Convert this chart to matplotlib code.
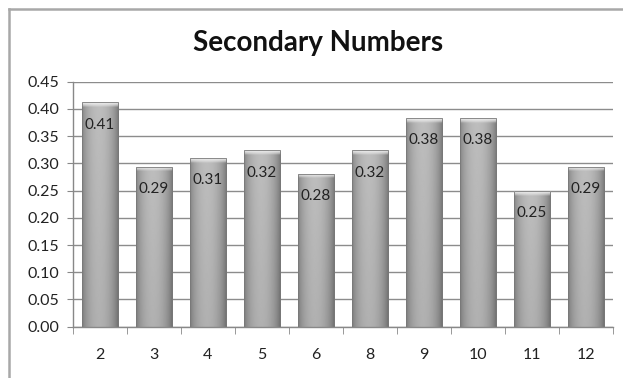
import numpy as np
import matplotlib
matplotlib.use("Agg")
from matplotlib import pyplot as plt
from matplotlib.patches import Rectangle
from matplotlib.lines import Line2D

# secondary number frequencies
categories = ["2", "3", "4", "5", "6", "8", "9", "10", "11", "12"]
values = [0.412, 0.294, 0.310, 0.324, 0.281, 0.324, 0.383, 0.383, 0.249, 0.294]
y_ticks = [0.00, 0.05, 0.10, 0.15, 0.20, 0.25, 0.30, 0.35, 0.40, 0.45]

plt.rcParams["font.family"] = ["Lato", "DejaVu Sans"]

fig = plt.figure(figsize=(6.23, 3.78), dpi=100)
ax = fig.add_axes([0.117, 0.1357, 0.8665, 0.6482])

# outer chart frame (only top and left edges show)
fig.add_artist(Line2D([0.015, 1.0], [0.975, 0.975], transform=fig.transFigure,
                      color="#a8a8a8", lw=1.8))
fig.add_artist(Line2D([0.015, 0.015], [0.0, 0.975], transform=fig.transFigure,
                      color="#a8a8a8", lw=1.8))

ax.set_xlim(-0.5, len(categories) - 0.5)
ax.set_ylim(0, 0.45)
ax.set_yticks(y_ticks)
ax.set_yticklabels([f"{t:.2f}" for t in y_ticks], fontsize=11.5, color="#222222")
ax.set_xticks(range(len(categories)))
ax.set_xticklabels(categories, fontsize=11.5, color="#222222")
ax.tick_params(axis="x", length=0, pad=15)
ax.tick_params(axis="y", length=4, color="#888888", pad=6)

# category boundary ticks below the x axis
ax.set_xticks(np.arange(-0.5, len(categories)), minor=True)
ax.tick_params(axis="x", which="minor", length=5, color="#888888")

for s in ["top", "right"]:
    ax.spines[s].set_visible(False)
for s in ["left", "bottom"]:
    ax.spines[s].set_color("#888888")
    ax.spines[s].set_linewidth(1.0)

ax.yaxis.grid(True, color="#8c8c8c", lw=1.0)
ax.set_axisbelow(True)

# horizontal shading profile for the cylinder-like bars
u = np.linspace(0, 1, 60)
profile = 0.50 + 0.27 * np.sin(np.pi * u) ** 0.6 - 0.06 * u
width = 0.67

for i, v in enumerate(values):
    ny = 200
    t = np.linspace(0, 1, ny)[:, None]      # 0 at top, 1 at bottom
    img = profile[None, :] - 0.05 * t
    # lighter bevel at the top of each bar
    cap_frac = 0.008 / v
    cap = np.clip(1 - t / cap_frac, 0, 1) ** 0.7
    img = img + cap * (0.93 - img)
    img = np.clip(img, 0, 1)
    rect = Rectangle((i - width / 2, 0), width, v, facecolor="none",
                     edgecolor="#7a7a7a", lw=0.6, zorder=3)
    ax.add_patch(rect)
    im = ax.imshow(img, cmap="gray", vmin=0, vmax=1, aspect="auto",
                   extent=(i - width / 2, i + width / 2, 0, v), zorder=2,
                   interpolation="bilinear")
    im.set_clip_path(rect)
    ax.annotate(f"{v:.2f}", (i, v), xytext=(0, -16), textcoords="offset points",
                ha="center", va="center", fontsize=11, color="#222222", zorder=4)

ax.set_xlim(-0.5, len(categories) - 0.5)
ax.set_ylim(0, 0.45)

fig.text(0.511, 0.885, "Secondary Numbers", ha="center", va="center",
         fontsize=20, fontweight="bold", color="#111111")

fig.savefig("out.png", dpi=100)
